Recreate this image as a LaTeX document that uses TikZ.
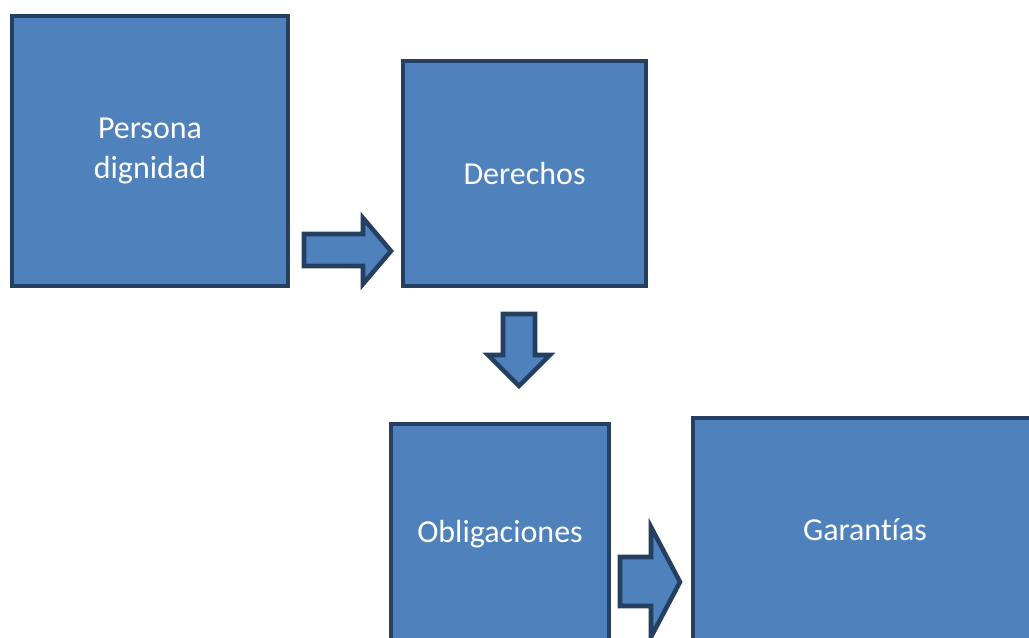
\documentclass[tikz,border=0pt]{standalone}
\usepackage{fontspec}
\setmainfont{Carlito}
\usepackage{tikz}
\usetikzlibrary{positioning}
\definecolor{boxblue}{HTML}{4F81BD}
\definecolor{boxline}{HTML}{243F60}

\tikzset{box/.style={draw=boxline,fill=boxblue,line width=3.4pt,text=white,align=center,inner sep=0pt,font=\fontsize{24}{30}\selectfont},
         blockarrow/.style={draw=boxline,fill=boxblue,line width=3.4pt,line join=miter}}

\begin{document}
\begin{tikzpicture}[x=0.75pt,y=-0.75pt]
\useasboundingbox (0,0) rectangle (1029,638);
\clip (0,0) rectangle (1029,638);
% boxes
\node[box,minimum width=207pt,minimum height=202.5pt] (persona) at (150,151) {Persona\\dignidad};
\node[box,minimum width=182.25pt,minimum height=168.75pt] (derechos) at (524.5,173.5) {Derechos};
\node[box,minimum width=163.5pt,minimum height=165pt] (obligaciones) at (500,534) {Obligaciones};
\node[box,minimum width=258pt,minimum height=168pt] (garantias) at (865,530) {Garant\kern0pt\'{\i}as};

% arrows
\draw[blockarrow] (304,234) -- (363,234) -- (363,218) -- (391,251) -- (363,284) -- (363,266) -- (304,266) -- cycle;
\draw[blockarrow] (503,314) -- (535,314) -- (535,355) -- (550,355) -- (519,386) -- (488,355) -- (503,355) -- cycle;
\draw[blockarrow] (620,557) -- (651,557) -- (651,527) -- (680,582) -- (651,637) -- (651,606) -- (620,606) -- cycle;
\end{tikzpicture}
\end{document}
